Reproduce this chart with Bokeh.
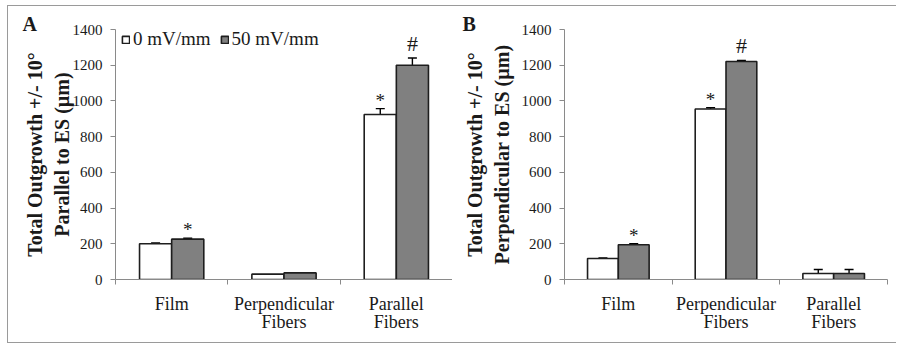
from bokeh.plotting import figure
from bokeh.layouts import row
from bokeh.models import (ColumnDataSource, FixedTicker, Whisker, TeeHead, Legend,
                          LegendItem, Title, Range1d)
from bokeh.embed import file_html
from bokeh.resources import INLINE

# ---------------- data ----------------
categories = ["Film", "Perpendicular\nFibers", "Parallel\nFibers"]
series_names = ["0 mV/mm", "50 mV/mm"]
y_ticks = [0, 200, 400, 600, 800, 1000, 1200, 1400]

a_0mv = [200, 30, 924]
a_0mv_err = [5, 0, 33]
a_50mv = [226, 37, 1200]
a_50mv_err = [5, 0, 40]
a_0mv_marks = ["", "", "*"]
a_50mv_marks = ["*", "", "#"]

b_0mv = [118, 955, 34]
b_0mv_err = [2, 7, 22]
b_50mv = [195, 1221, 34]
b_50mv_err = [6, 6, 22]
b_0mv_marks = ["", "*", ""]
b_50mv_marks = ["*", "#", ""]

panel_a_title = "Total Outgrowth +/- 10\u00b0\nParallel to ES (\u00b5m)"
panel_b_title = "Total Outgrowth +/- 10\u00b0\nPerpendicular to ES (\u00b5m)"

# ---------------- style ----------------
FONT = "Liberation Serif"
AXIS_GRAY = "#8a8a8a"
TXT = "#1a1a1a"
BAR_W = 0.286
FILLS = ["white", "#808080"]
H = 336


def make_panel(letter, letter_off, title, title_standoff, s0, e0, m0, s1, e1, m1,
               width, mb_left, mb_right, legend):
    p = figure(width=width, height=H, output_backend="svg", toolbar_location=None,
               x_range=Range1d(0, len(categories)), y_range=Range1d(0, 1400),
               min_border_left=mb_left, min_border_right=mb_right,
               min_border_top=23, min_border_bottom=63,
               background_fill_color="white", border_fill_color="white")
    p.outline_line_color = None
    p.grid.visible = False

    p.title = Title(text=letter, align="left", offset=letter_off, standoff=-10,
                    text_font=FONT, text_font_size="20px", text_font_style="bold",
                    text_color=TXT, text_line_height=0.2, vertical_align="bottom")

    centers = [i + 0.5 for i in range(len(categories))]
    renderers = []
    for k, (vals, errs, marks) in enumerate([(s0, e0, m0), (s1, e1, m1)]):
        xs = [c + (k - 0.5) * BAR_W for c in centers]
        src = ColumnDataSource(dict(x=xs, top=vals))
        r = p.vbar(x="x", top="top", width=BAR_W, bottom=0, source=src,
                   fill_color=FILLS[k], line_color="#1e1e1e", line_width=1.6)
        renderers.append(r)
        ex = [x for x, e in zip(xs, errs) if e > 0]
        up = [v + e for v, e in zip(vals, errs) if e > 0]
        lo = [v - e for v, e in zip(vals, errs) if e > 0]
        wsrc = ColumnDataSource(dict(x=ex, upper=up, lower=lo))
        w = Whisker(source=wsrc, base="x", upper="upper", lower="lower",
                    line_color="black", line_width=1.4,
                    upper_head=TeeHead(size=9, line_color="black", line_width=1.4),
                    lower_head=TeeHead(size=9, line_color="black", line_width=1.4))
        p.add_layout(w)
        for mark, size, off in (("*", "19px", 2), ("#", "22px", -2)):
            mx = [x for x, m in zip(xs, marks) if m == mark]
            my = [v + e for v, e, m in zip(vals, errs, marks) if m == mark]
            msrc = ColumnDataSource(dict(x=mx, y=my, t=[mark] * len(mx)))
            p.text(x="x", y="y", text="t", source=msrc, text_align="center",
                   text_baseline="bottom", y_offset=off,
                   text_font_size=size, text_color=TXT,
                   text_font={"value": FONT})

    # y axis
    ya = p.yaxis[0]
    ya.ticker = FixedTicker(ticks=y_ticks)
    ya.axis_line_color = AXIS_GRAY
    ya.major_tick_line_color = AXIS_GRAY
    ya.major_tick_out = 5
    ya.major_tick_in = 0
    ya.minor_tick_line_color = None
    ya.major_label_text_font = FONT
    ya.major_label_text_font_size = "15px"
    ya.major_label_text_color = TXT
    ya.major_label_standoff = 8
    ya.axis_label = title
    ya.axis_label_text_font = FONT
    ya.axis_label_text_font_size = "20px"
    ya.axis_label_text_font_style = "bold"
    ya.axis_label_text_color = TXT
    ya.axis_label_standoff = title_standoff

    # x axis: labels at centers, ticks at category boundaries
    xa = p.xaxis[0]
    xa.ticker = FixedTicker(ticks=centers, minor_ticks=list(range(len(categories) + 1)))
    xa.major_label_overrides = {c: lab for c, lab in zip(centers, categories)}
    xa.axis_line_color = AXIS_GRAY
    xa.major_tick_line_color = None
    xa.minor_tick_line_color = AXIS_GRAY
    xa.minor_tick_out = 5
    xa.minor_tick_in = 0
    xa.major_label_text_font = FONT
    xa.major_label_text_font_size = "18px"
    xa.major_label_text_color = TXT
    xa.major_label_text_line_height = 0.92
    xa.major_label_standoff = 8

    if legend:
        items = [LegendItem(label=n, renderers=[r]) for n, r in zip(series_names, renderers)]
        lg = Legend(items=items, orientation="horizontal", location=(6, 229),
                    glyph_width=9, glyph_height=9, label_standoff=3, spacing=9,
                    padding=0, margin=0, border_line_color=None,
                    background_fill_alpha=0,
                    label_text_font=FONT, label_text_font_size="19px",
                    label_text_color=TXT, label_height=20)
        p.add_layout(lg)
    return p


pa = make_panel("A", -93, panel_a_title, -3, a_0mv, a_0mv_err, a_0mv_marks,
                a_50mv, a_50mv_err, a_50mv_marks, 444, 107, 0, True)
pb = make_panel("B", -102, panel_b_title, 6, b_0mv, b_0mv_err, b_0mv_marks,
                b_50mv, b_50mv_err, b_50mv_marks, 444, 112, 9, False)

layout = row(pa, pb, styles={"border": "1px solid #9a9a9a", "border-right": "none",
                             "margin-left": "7px", "margin-top": "5px"})

open("out.html", "w").write(file_html(layout, INLINE))
